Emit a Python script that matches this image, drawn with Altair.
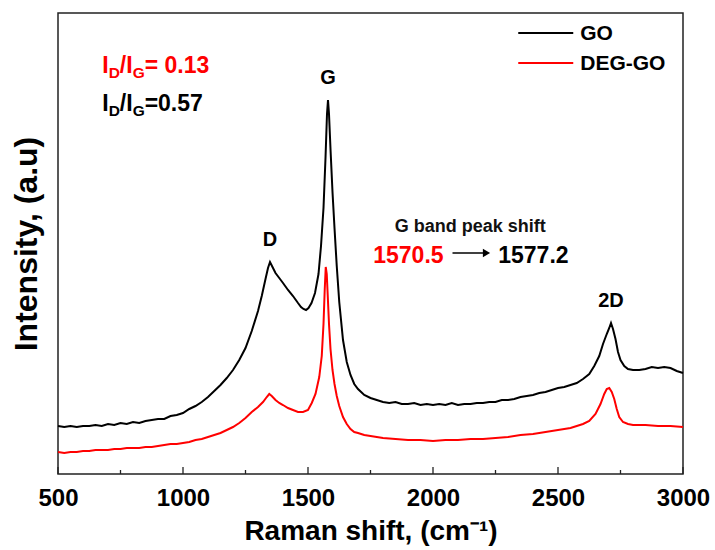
import altair as alt
import numpy as np
import pandas as pd

# Raman spectra (intensity in arbitrary units, offset for display)
go_shift = [500, 525, 550, 575, 600, 625, 650, 675, 700, 725, 750, 775, 800, 825, 850, 875,
            900, 925, 950, 975, 1000, 1025, 1050, 1075, 1100, 1125, 1150, 1175, 1200, 1225,
            1250, 1275, 1300, 1315, 1330, 1340, 1348, 1356, 1370, 1385, 1400, 1420, 1440,
            1460, 1472, 1482, 1492, 1502, 1514, 1528, 1542, 1552, 1562, 1570, 1576, 1580, 1584,
            1590, 1598, 1606, 1615, 1625, 1640, 1655, 1670, 1685, 1700, 1725, 1750, 1775,
            1800, 1825, 1850, 1875, 1900, 1925, 1950, 1975, 2000, 2025, 2050, 2075, 2100,
            2125, 2150, 2175, 2200, 2225, 2250, 2275, 2300, 2325, 2350, 2375, 2400, 2425,
            2450, 2475, 2500, 2525, 2550, 2575, 2600, 2625, 2645, 2665, 2680, 2695, 2705,
            2712, 2720, 2730, 2740, 2750, 2765, 2780, 2800, 2825, 2850, 2875, 2900, 2925,
            2950, 2975, 3000]
go_intensity = [48, 47, 48, 47, 48, 48, 49, 48, 50, 49, 51, 50, 52, 51, 53, 54,
                55, 55, 58, 59, 61, 65, 68, 72, 77, 83, 89, 96, 104, 114,
                126, 143, 163, 178, 195, 206, 212, 208, 201, 196, 191, 184, 178,
                171, 167, 165, 164, 166, 171, 181, 200, 228, 266, 316, 360, 374, 360,
                325, 282, 246, 208, 172, 134, 112, 99, 90, 85, 79, 76, 74,
                72, 71, 72, 70, 70, 71, 69, 70, 69, 70, 69, 71, 69,
                70, 70, 71, 71, 72, 72, 74, 74, 75, 77, 78, 79, 81,
                82, 84, 86, 87, 89, 91, 95, 100, 108, 118, 130, 140, 146,
                151, 145, 135, 122, 114, 108, 105, 104, 104, 105, 107, 106, 107,
                106, 103, 101]

deg_shift = [500, 525, 550, 575, 600, 625, 650, 675, 700, 725, 750, 775, 800, 825, 850, 875,
             900, 925, 950, 975, 1000, 1025, 1050, 1075, 1100, 1125, 1150, 1175, 1200, 1225,
             1250, 1275, 1300, 1320, 1335, 1345, 1355, 1370, 1385, 1400, 1420, 1440, 1460,
             1480, 1500, 1515, 1530, 1545, 1555, 1562, 1567, 1571, 1575, 1579, 1584, 1590,
             1598, 1606, 1615, 1625, 1640, 1655, 1670, 1685, 1700, 1725, 1750, 1775, 1800,
             1850, 1900, 1950, 2000, 2050, 2100, 2150, 2200, 2250, 2300, 2350, 2400, 2450,
             2500, 2550, 2600, 2625, 2650, 2670, 2685, 2695, 2705, 2715, 2725, 2735, 2745,
             2760, 2780, 2800, 2850, 2900, 2950, 3000]
deg_intensity = [22, 21, 22, 22, 23, 23, 24, 24, 24, 25, 25, 26, 26, 26, 27, 27,
                 28, 29, 30, 30, 31, 32, 34, 35, 37, 39, 41, 44, 47, 51,
                 56, 62, 67, 72, 77, 80, 78, 74, 71, 69, 66, 64, 62,
                 62, 64, 71, 80, 97, 118, 150, 185, 207, 200, 178, 150, 125,
                 104, 90, 78, 68, 57, 50, 45, 42, 41, 39, 38, 37, 36,
                 35, 34, 34, 33, 34, 34, 35, 35, 36, 37, 39, 40, 42,
                 44, 46, 50, 53, 60, 70, 80, 85, 86, 82, 75, 65, 57,
                 52, 50, 49, 49, 48, 48, 47]

series_names = ["GO", "DEG-GO"]
series_colors = ["#000000", "#ff0000"]

peak_names = ["D", "G", "2D"]
peak_shifts = [1348, 1580, 2712]

ratio_deg_text = "= 0.13"
ratio_go_text = "=0.57"
g_peak_deg = "1570.5"
g_peak_go = "1577.2"

x_major = [500, 1000, 1500, 2000, 2500, 3000]
x_minor = [750, 1250, 1750, 2250, 2750]

FONT = "Liberation Sans"
W, H = 625, 461
xs = alt.Scale(domain=[500, 3000], nice=False, zero=False)
ys = alt.Scale(domain=[0, 461], nice=False, zero=False)

spectra = pd.concat([
    pd.DataFrame({"series": "GO", "shift": go_shift, "intensity": go_intensity}),
    pd.DataFrame({"series": "DEG-GO", "shift": deg_shift, "intensity": deg_intensity}),
])

lines = alt.Chart(spectra).mark_line(strokeWidth=2).encode(
    x=alt.X("shift:Q", scale=xs,
            axis=alt.Axis(values=x_major, format="d", ticks=False, domain=False, grid=False,
                          labelFontSize=24, labelFontWeight="bold", labelColor="black",
                          labelPadding=12, labelFlush=False, labelOverlap=False,
                          title="Raman shift, (cm\u207b\u00b9)", titleFontSize=28,
                          titleFontWeight="bold", titleColor="black", titlePadding=7)),
    y=alt.Y("intensity:Q", scale=ys,
            axis=alt.Axis(labels=False, ticks=False, domain=False, grid=False,
                          title="Intensity, (a.u)", titleFontSize=32, titleFontWeight="bold",
                          titleColor="black", titlePadding=15)),
    color=alt.Color("series:N", scale=alt.Scale(domain=series_names, range=series_colors),
                    legend=None),
    detail="series:N",
)


def point_frame(shift, level, **extra):
    data = {"shift": [shift], "intensity": [level]}
    data.update({k: [v] for k, v in extra.items()})
    return pd.DataFrame(data)


# inward-facing ticks along the bottom edge
major_ticks = alt.Chart(pd.DataFrame({"shift": x_major})).mark_rule(
    color="#222", strokeWidth=1.3).encode(
    x=alt.X("shift:Q", scale=xs), y=alt.value(H), y2=alt.value(H - 7))
minor_ticks = alt.Chart(pd.DataFrame({"shift": x_minor})).mark_rule(
    color="#222", strokeWidth=1.3).encode(
    x=alt.X("shift:Q", scale=xs), y=alt.value(H), y2=alt.value(H - 4))

# band labels above the GO peaks
peak_levels = np.interp(peak_shifts, go_shift, go_intensity)
peaks = alt.Chart(pd.DataFrame({"shift": peak_shifts, "intensity": peak_levels,
                                "name": peak_names})).mark_text(
    font=FONT, fontSize=20, fontWeight="bold", color="black", baseline="alphabetic",
    align="center", dy=-16).encode(
    x=alt.X("shift:Q", scale=xs), y=alt.Y("intensity:Q", scale=ys), text="name:N")

# I_D/I_G ratio labels built from pieces with lowered subscripts
ARIAL_BOLD = {"I": .278, "D": .722, "/": .278, "G": .778, "=": .584, " ": .278, ".": .278,
              **{d: .556 for d in "0123456789"}}


def text_width(s, size):
    return sum(ARIAL_BOLD[c] for c in s) * size


def ratio_label(shift, level, value_text, color, main=23, sub=15.5):
    pieces = [("I", main, 0), ("D", sub, 5), ("/I", main, 0), ("G", sub, 5), (value_text, main, 0)]
    out = []
    dx = 0.0
    for txt, size, drop in pieces:
        out.append(alt.Chart(point_frame(shift, level, t=txt)).mark_text(
            font=FONT, fontSize=size, fontWeight="bold", color=color, align="left",
            baseline="alphabetic", dx=round(dx, 1), dy=drop).encode(
            x=alt.X("shift:Q", scale=xs), y=alt.Y("intensity:Q", scale=ys), text="t:N"))
        dx += text_width(txt, size)
    return out


ratio_layers = ratio_label(677, 401, ratio_deg_text, series_colors[1]) + \
    ratio_label(677, 363, ratio_go_text, series_colors[0])

# G band shift note with arrow
shift_title = alt.Chart(point_frame(2149, 242, t="G band peak shift")).mark_text(
    font=FONT, fontSize=18, fontWeight="bold", color="#111", align="center",
    baseline="alphabetic").encode(
    x=alt.X("shift:Q", scale=xs), y=alt.Y("intensity:Q", scale=ys), text="t:N")
shift_from = alt.Chart(point_frame(1761, 211, t=g_peak_deg)).mark_text(
    font=FONT, fontSize=23, fontWeight="bold", color=series_colors[1], align="left",
    baseline="alphabetic").encode(
    x=alt.X("shift:Q", scale=xs), y=alt.Y("intensity:Q", scale=ys), text="t:N")
shift_to = alt.Chart(point_frame(2261, 211, t=g_peak_go)).mark_text(
    font=FONT, fontSize=23, fontWeight="bold", color=series_colors[0], align="left",
    baseline="alphabetic").encode(
    x=alt.X("shift:Q", scale=xs), y=alt.Y("intensity:Q", scale=ys), text="t:N")
arrow_df = pd.DataFrame({"shift": [2078], "shift2": [2212], "intensity": [221]})
arrow_line = alt.Chart(arrow_df).mark_rule(color="black", strokeWidth=1.5).encode(
    x=alt.X("shift:Q", scale=xs), x2="shift2:Q", y=alt.Y("intensity:Q", scale=ys))
arrow_head = alt.Chart(point_frame(2214, 221)).mark_point(
    shape="triangle-right", filled=True, color="black", size=70, opacity=1).encode(
    x=alt.X("shift:Q", scale=xs), y=alt.Y("intensity:Q", scale=ys))

# legend drawn inside the frame
legend_df = pd.DataFrame({"series": series_names, "shift": [2341] * 2, "shift2": [2561] * 2,
                          "intensity": [441, 411], "label_at": [2589] * 2})
legend_lines = alt.Chart(legend_df).mark_rule(strokeWidth=2).encode(
    x=alt.X("shift:Q", scale=xs), x2="shift2:Q", y=alt.Y("intensity:Q", scale=ys),
    color=alt.Color("series:N", scale=alt.Scale(domain=series_names, range=series_colors),
                    legend=None))
legend_text = alt.Chart(legend_df).mark_text(
    font=FONT, fontSize=21, fontWeight="bold", color="black", align="left",
    baseline="middle", dy=1).encode(
    x=alt.X("label_at:Q", scale=xs), y=alt.Y("intensity:Q", scale=ys), text="series:N")

chart = alt.layer(
    lines, major_ticks, minor_ticks, peaks, *ratio_layers,
    shift_title, shift_from, shift_to, arrow_line, arrow_head,
    legend_lines, legend_text,
).properties(
    width=W, height=H, autosize="none",
    padding={"left": 58, "top": 13, "right": 32, "bottom": 76},
).configure(font=FONT, background="white").configure_view(
    stroke="#222", strokeWidth=1.5)

chart.save("out.html", embed_options={"renderer": "svg", "actions": False})
